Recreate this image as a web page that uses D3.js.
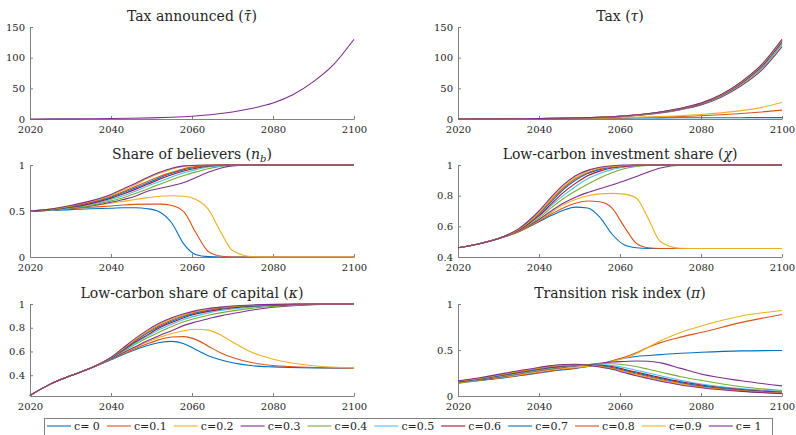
<!DOCTYPE html>
<html>
<head>
<meta charset="utf-8">
<script src="https://cdn.jsdelivr.net/npm/d3@7"></script>
<style>
  body { margin: 0; background: #fff; }
  svg text { font-family: "DejaVu Serif", serif; }
</style>
</head>
<body>
<script>
//time grids
var taxYears = [2020, 2025, 2030, 2035, 2040, 2045, 2050, 2055, 2060, 2065, 2070, 2075, 2080, 2085, 2090, 2095, 2100];
var years = [2020, 2025, 2030, 2035, 2040, 2043, 2046, 2049, 2052, 2055, 2058, 2061, 2064, 2067, 2070, 2075, 2080, 2090, 2100];
var xTicks = [2020, 2040, 2060, 2080, 2100];

//legend labels and MATLAB line colours (one per c)
var cLabels = ["c= 0", "c=0.1", "c=0.2", "c=0.3", "c=0.4", "c=0.5", "c=0.6", "c=0.7", "c=0.8", "c=0.9", "c= 1"];
var cColors = ["#0072BD", "#D95319", "#EDB120", "#7E2F8E", "#77AC30", "#4DBEEE", "#A2142F",
               "#0072BD", "#D95319", "#EDB120", "#7E2F8E"];

//announced tax
var tauBar = [0.05, 0.15, 0.28, 0.45, 0.7, 1.1, 1.8, 2.9, 4.6, 7.3, 11.5, 17.5, 26, 40, 61, 89, 130];

//effective tax, one list per c
var tax = [
    [0.05, 0.12, 0.22, 0.33, 0.48, 0.68, 0.9, 1.15, 1.4, 1.6, 1.8, 1.95, 2.05, 2.1, 2.15, 2.2, 2.2],
    [0.05, 0.13, 0.23, 0.35, 0.52, 0.75, 1.05, 1.45, 1.9, 2.5, 3.2, 4.1, 5.3, 6.9, 9, 11.5, 14.5],
    [0.05, 0.13, 0.24, 0.36, 0.55, 0.8, 1.15, 1.6, 2.2, 3.0, 4.0, 5.4, 7.3, 10, 13.6, 19, 27],
    [0.05, 0.14, 0.25, 0.4, 0.6, 0.92, 1.5, 2.4, 3.8, 6.1, 9.9, 15.3, 23, 35.5, 54.5, 79.8, 118],
    [0.05, 0.14, 0.26, 0.42, 0.64, 0.98, 1.6, 2.55, 4.1, 6.5, 10.5, 16.1, 24.1, 37.1, 56.6, 82.7, 122],
    [0.05, 0.15, 0.27, 0.43, 0.66, 1.0, 1.65, 2.65, 4.25, 6.7, 10.8, 16.5, 24.7, 37.9, 57.8, 84.4, 124],
    [0.05, 0.15, 0.28, 0.44, 0.68, 1.05, 1.7, 2.75, 4.4, 6.9, 11.0, 16.8, 25.1, 38.6, 58.8, 85.8, 126],
    [0.05, 0.15, 0.28, 0.45, 0.7, 1.1, 1.75, 2.8, 4.45, 7.0, 11.2, 17.0, 25.4, 39, 59.5, 86.8, 127],
    [0.05, 0.15, 0.28, 0.45, 0.7, 1.1, 1.75, 2.85, 4.5, 7.1, 11.3, 17.2, 25.6, 39.3, 60, 87.5, 128],
    [0.05, 0.15, 0.28, 0.45, 0.7, 1.1, 1.8, 2.9, 4.6, 7.2, 11.4, 17.4, 25.8, 39.6, 60.4, 88.2, 129],
    [0.05, 0.15, 0.28, 0.45, 0.7, 1.1, 1.8, 2.9, 4.6, 7.3, 11.5, 17.5, 26, 40, 61, 89, 130]
];

//share of believers n_b
var believers = [
    [0.50, 0.505, 0.515, 0.525, 0.53, 0.535, 0.535, 0.525, 0.49, 0.37, 0.14, 0.025, 0.004, 0, 0, 0, 0, 0, 0],
    [0.50, 0.51, 0.525, 0.54, 0.555, 0.565, 0.572, 0.575, 0.575, 0.56, 0.49, 0.26, 0.06, 0.01, 0, 0, 0, 0, 0],
    [0.50, 0.51, 0.53, 0.555, 0.585, 0.605, 0.625, 0.645, 0.66, 0.665, 0.66, 0.625, 0.52, 0.28, 0.07, 0.003, 0, 0, 0],
    [0.50, 0.51, 0.53, 0.555, 0.595, 0.625, 0.66, 0.715, 0.745, 0.775, 0.81, 0.865, 0.92, 0.965, 0.99, 1, 1, 1, 1],
    [0.50, 0.51, 0.53, 0.56, 0.61, 0.645, 0.69, 0.74, 0.79, 0.84, 0.885, 0.925, 0.96, 0.985, 0.997, 1, 1, 1, 1],
    [0.50, 0.51, 0.535, 0.57, 0.625, 0.665, 0.715, 0.77, 0.82, 0.87, 0.915, 0.95, 0.978, 0.993, 1, 1, 1, 1, 1],
    [0.50, 0.515, 0.54, 0.58, 0.64, 0.685, 0.735, 0.79, 0.845, 0.895, 0.935, 0.965, 0.987, 0.997, 1, 1, 1, 1, 1],
    [0.50, 0.515, 0.545, 0.59, 0.65, 0.70, 0.75, 0.805, 0.86, 0.91, 0.95, 0.975, 0.992, 1, 1, 1, 1, 1, 1],
    [0.50, 0.515, 0.55, 0.595, 0.66, 0.71, 0.765, 0.82, 0.875, 0.92, 0.96, 0.982, 0.995, 1, 1, 1, 1, 1, 1],
    [0.50, 0.52, 0.555, 0.605, 0.67, 0.725, 0.785, 0.855, 0.91, 0.955, 0.983, 0.995, 1, 1, 1, 1, 1, 1, 1],
    [0.50, 0.52, 0.56, 0.61, 0.68, 0.74, 0.80, 0.865, 0.92, 0.965, 0.99, 0.998, 1, 1, 1, 1, 1, 1, 1]
];

//low-carbon investment share chi
var investShare = [
    [0.46, 0.485, 0.52, 0.565, 0.63, 0.67, 0.705, 0.725, 0.72, 0.66, 0.55, 0.48, 0.46, 0.455, 0.455, 0.455, 0.455, 0.455, 0.455],
    [0.46, 0.485, 0.52, 0.565, 0.635, 0.68, 0.72, 0.75, 0.765, 0.76, 0.72, 0.60, 0.49, 0.46, 0.455, 0.455, 0.455, 0.455, 0.455],
    [0.46, 0.485, 0.52, 0.57, 0.64, 0.69, 0.74, 0.775, 0.80, 0.812, 0.815, 0.81, 0.785, 0.65, 0.50, 0.457, 0.455, 0.455, 0.455],
    [0.46, 0.485, 0.52, 0.57, 0.645, 0.70, 0.75, 0.79, 0.82, 0.845, 0.87, 0.895, 0.925, 0.955, 0.98, 0.998, 1, 1, 1],
    [0.46, 0.485, 0.52, 0.57, 0.655, 0.72, 0.78, 0.83, 0.875, 0.915, 0.95, 0.975, 0.99, 0.997, 1, 1, 1, 1, 1],
    [0.46, 0.485, 0.52, 0.575, 0.665, 0.735, 0.80, 0.86, 0.91, 0.945, 0.97, 0.985, 0.995, 1, 1, 1, 1, 1, 1],
    [0.46, 0.485, 0.52, 0.575, 0.67, 0.745, 0.82, 0.88, 0.93, 0.96, 0.98, 0.99, 0.997, 1, 1, 1, 1, 1, 1],
    [0.46, 0.485, 0.52, 0.58, 0.68, 0.76, 0.84, 0.90, 0.945, 0.97, 0.985, 0.995, 1, 1, 1, 1, 1, 1, 1],
    [0.46, 0.485, 0.52, 0.58, 0.685, 0.77, 0.85, 0.91, 0.95, 0.975, 0.99, 0.995, 1, 1, 1, 1, 1, 1, 1],
    [0.46, 0.485, 0.52, 0.58, 0.69, 0.78, 0.86, 0.92, 0.96, 0.98, 0.99, 0.997, 1, 1, 1, 1, 1, 1, 1],
    [0.46, 0.485, 0.52, 0.585, 0.70, 0.79, 0.87, 0.93, 0.965, 0.985, 0.995, 1, 1, 1, 1, 1, 1, 1, 1]
];

//low-carbon share of capital kappa
var capitalShare = [
    [0.23, 0.325, 0.395, 0.46, 0.53, 0.575, 0.615, 0.65, 0.675, 0.685, 0.665, 0.615, 0.565, 0.53, 0.505, 0.48, 0.47, 0.462, 0.46],
    [0.23, 0.325, 0.395, 0.46, 0.535, 0.58, 0.625, 0.665, 0.70, 0.722, 0.725, 0.70, 0.645, 0.59, 0.55, 0.505, 0.482, 0.465, 0.46],
    [0.23, 0.325, 0.395, 0.46, 0.535, 0.585, 0.635, 0.68, 0.72, 0.752, 0.775, 0.787, 0.78, 0.74, 0.68, 0.59, 0.535, 0.48, 0.462],
    [0.23, 0.325, 0.395, 0.46, 0.535, 0.59, 0.64, 0.69, 0.735, 0.775, 0.82, 0.85, 0.875, 0.90, 0.92, 0.95, 0.972, 0.995, 1],
    [0.23, 0.325, 0.395, 0.46, 0.54, 0.60, 0.66, 0.715, 0.765, 0.81, 0.85, 0.88, 0.905, 0.925, 0.942, 0.965, 0.98, 0.997, 1],
    [0.23, 0.325, 0.395, 0.46, 0.54, 0.605, 0.67, 0.73, 0.785, 0.83, 0.87, 0.90, 0.925, 0.945, 0.958, 0.975, 0.987, 0.998, 1],
    [0.23, 0.325, 0.395, 0.46, 0.545, 0.61, 0.68, 0.74, 0.80, 0.845, 0.885, 0.915, 0.938, 0.955, 0.967, 0.982, 0.99, 0.999, 1],
    [0.23, 0.325, 0.395, 0.46, 0.545, 0.615, 0.69, 0.755, 0.81, 0.855, 0.895, 0.925, 0.946, 0.962, 0.973, 0.985, 0.993, 1, 1],
    [0.23, 0.325, 0.395, 0.46, 0.55, 0.62, 0.695, 0.765, 0.82, 0.865, 0.903, 0.932, 0.952, 0.966, 0.977, 0.988, 0.995, 1, 1],
    [0.23, 0.325, 0.395, 0.46, 0.55, 0.625, 0.70, 0.77, 0.83, 0.875, 0.91, 0.938, 0.957, 0.97, 0.98, 0.99, 0.996, 1, 1],
    [0.23, 0.325, 0.395, 0.46, 0.55, 0.63, 0.71, 0.78, 0.84, 0.885, 0.918, 0.944, 0.962, 0.974, 0.983, 0.992, 0.997, 1, 1]
];

//transition risk index pi
var riskIndex = [
    [0.14, 0.165, 0.19, 0.22, 0.25, 0.27, 0.285, 0.30, 0.32, 0.345, 0.38, 0.41, 0.43, 0.44, 0.45, 0.465, 0.475, 0.49, 0.495],
    [0.145, 0.17, 0.195, 0.225, 0.255, 0.275, 0.29, 0.305, 0.32, 0.345, 0.38, 0.42, 0.47, 0.53, 0.58, 0.64, 0.69, 0.80, 0.885],
    [0.145, 0.17, 0.20, 0.23, 0.265, 0.285, 0.30, 0.31, 0.325, 0.345, 0.375, 0.41, 0.46, 0.53, 0.60, 0.69, 0.76, 0.87, 0.93],
    [0.15, 0.175, 0.205, 0.24, 0.275, 0.295, 0.31, 0.325, 0.34, 0.355, 0.37, 0.375, 0.38, 0.378, 0.36, 0.30, 0.24, 0.165, 0.11],
    [0.15, 0.18, 0.21, 0.245, 0.28, 0.30, 0.315, 0.33, 0.34, 0.35, 0.35, 0.34, 0.32, 0.29, 0.26, 0.21, 0.17, 0.10, 0.06],
    [0.155, 0.18, 0.215, 0.25, 0.285, 0.305, 0.32, 0.333, 0.34, 0.34, 0.33, 0.31, 0.28, 0.25, 0.22, 0.17, 0.13, 0.08, 0.05],
    [0.155, 0.185, 0.22, 0.255, 0.29, 0.31, 0.325, 0.335, 0.34, 0.335, 0.32, 0.29, 0.26, 0.23, 0.20, 0.155, 0.12, 0.07, 0.04],
    [0.16, 0.185, 0.22, 0.26, 0.295, 0.315, 0.33, 0.337, 0.338, 0.33, 0.31, 0.28, 0.25, 0.22, 0.19, 0.145, 0.11, 0.065, 0.035],
    [0.16, 0.19, 0.225, 0.265, 0.30, 0.32, 0.333, 0.34, 0.336, 0.325, 0.30, 0.27, 0.24, 0.21, 0.18, 0.135, 0.10, 0.06, 0.03],
    [0.165, 0.19, 0.23, 0.27, 0.305, 0.325, 0.337, 0.34, 0.335, 0.32, 0.295, 0.265, 0.23, 0.20, 0.17, 0.13, 0.095, 0.055, 0.03],
    [0.165, 0.195, 0.235, 0.275, 0.31, 0.33, 0.343, 0.345, 0.335, 0.315, 0.29, 0.255, 0.22, 0.19, 0.16, 0.12, 0.09, 0.05, 0.025]
];

//svg frame
var width = 796,
    height = 435,
    plotW = 324,
    plotH = 92;

var svg = d3.select("body")
    .append("svg")
    .attr("width", width)
    .attr("height", height);

//panel layout; title parts: [text, style]
var panels = [
    { left: 30, top: 27, x: taxYears, series: [tauBar], colors: ["#7E2F8E"],
      yDomain: [0, 150], yTicks: [0, 50, 100, 150],
      title: [["Tax announced (", ""], ["τ\u0304", "i"], [")", ""]] },
    { left: 458, top: 27, x: taxYears, series: tax, colors: cColors,
      yDomain: [0, 150], yTicks: [0, 50, 100, 150],
      title: [["Tax (", ""], ["τ", "i"], [")", ""]] },
    { left: 30, top: 165, x: years, series: believers, colors: cColors,
      yDomain: [0, 1], yTicks: [0, 0.5, 1],
      title: [["Share of believers (", ""], ["n", "i"], ["b", "sub"], [")", ""]] },
    { left: 458, top: 165, x: years, series: investShare, colors: cColors,
      yDomain: [0.4, 1], yTicks: [0.4, 0.6, 0.8, 1],
      title: [["Low-carbon investment share (", ""], ["χ", "i"], [")", ""]] },
    { left: 30, top: 304, x: years, series: capitalShare, colors: cColors,
      yDomain: [0.225, 1], yTicks: [0.4, 0.6, 0.8, 1],
      title: [["Low-carbon share of capital (", ""], ["κ", "i"], [")", ""]] },
    { left: 458, top: 304, x: years, series: riskIndex, colors: cColors,
      yDomain: [0, 1], yTicks: [0, 0.5, 1],
      title: [["Transition risk index (", ""], ["π", "i"], [")", ""]] }
];

panels.forEach(drawPanel);
drawLegend();

//function to draw one subplot
function drawPanel(p) {
    var xScale = d3.scaleLinear()
        .domain([2020, 2100])
        .range([p.left, p.left + plotW]);

    var yScale = d3.scaleLinear()
        .domain(p.yDomain)
        .range([p.top + plotH, p.top]);

    //axes, inward ticks like MATLAB
    svg.append("g")
        .attr("transform", "translate(0," + (p.top + plotH) + ")")
        .attr("color", "#808080")
        .call(d3.axisBottom(xScale)
            .tickValues(xTicks)
            .tickFormat(d3.format("d"))
            .tickSizeInner(-3)
            .tickSizeOuter(0)
            .tickPadding(7));

    svg.append("g")
        .attr("transform", "translate(" + p.left + ",0)")
        .attr("color", "#808080")
        .call(d3.axisLeft(yScale)
            .tickValues(p.yTicks)
            .tickFormat(d3.format("~g"))
            .tickSizeInner(-3)
            .tickSizeOuter(0)
            .tickPadding(5));

    svg.selectAll(".tick text")
        .attr("fill", "#262626")
        .attr("font-family", null)
        .style("font-size", "10px");

    //one line per series
    var line = d3.line()
        .x(function (d, i) { return xScale(p.x[i]); })
        .y(function (d) { return yScale(d); })
        .curve(d3.curveMonotoneX);

    svg.append("g")
        .selectAll("path")
        .data(p.series)
        .enter()
        .append("path")
        .attr("d", line)
        .attr("fill", "none")
        .attr("stroke", function (d, i) { return p.colors[i]; })
        .attr("stroke-width", 1.1);

    //title with italic symbol
    var title = svg.append("text")
        .attr("x", p.left + plotW / 2)
        .attr("y", p.top - 6)
        .attr("text-anchor", "middle")
        .attr("fill", "#262626")
        .style("font-size", "14px");

    p.title.forEach(function (part) {
        var t = title.append("tspan").text(part[0]);
        if (part[1] == "i") t.style("font-style", "italic");
        if (part[1] == "sub") t.attr("dy", 3).style("font-size", "10px").style("font-style", "italic");
        if (part[0] == ")" && title.selectAll("tspan").size() > 3) t.attr("dy", -3);
    });
}

//legend across the bottom
function drawLegend() {
    var legend = svg.append("g");

    legend.append("rect")
        .attr("x", 44.5)
        .attr("y", 418.5)
        .attr("width", 728)
        .attr("height", 24)
        .attr("fill", "#fff")
        .attr("stroke", "#808080");

    var cursor = 47,
        lineY = 426;

    cLabels.forEach(function (label, i) {
        legend.append("line")
            .attr("x1", cursor)
            .attr("x2", cursor + 24)
            .attr("y1", lineY)
            .attr("y2", lineY)
            .attr("stroke", cColors[i])
            .attr("stroke-width", 1.1);

        var txt = legend.append("text")
            .attr("x", cursor + 27)
            .attr("y", lineY + 4)
            .attr("fill", "#262626")
            .style("font-size", "11px")
            .text(label);

        cursor += 27 + txt.node().getComputedTextLength() + 7;
    });
}
</script>
</body>
</html>
